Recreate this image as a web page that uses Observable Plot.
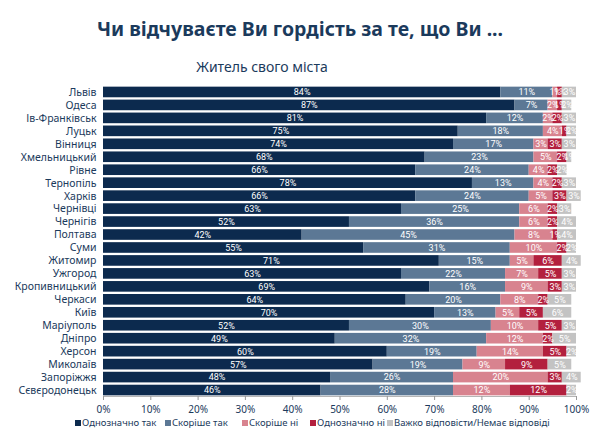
<!DOCTYPE html>
<html><head><meta charset="utf-8">
<script src="https://cdn.jsdelivr.net/npm/d3@7"></script>
<script src="https://cdn.jsdelivr.net/npm/@observablehq/plot@0.6"></script>
<style>
body{margin:0;background:#fff;font-family:"Noto Sans",sans-serif;}
#wrap{width:600px;height:433px;position:relative;overflow:hidden;}
#title{position:absolute;top:15px;left:0;width:600px;text-align:center;font-size:19.5px;font-weight:bold;color:#1b3a5c;}
#sub{position:absolute;top:57px;left:0;width:524px;text-align:center;font-size:14px;color:#1b3a5c;}
#chart{position:absolute;top:78px;left:0;}
#chart svg{display:block;}
#legend{position:absolute;top:416px;left:0;width:600px;height:16px;font-size:9.5px;color:#1b3a5c;white-space:nowrap;}
#legend span{position:absolute;top:0;}
#legend i{display:inline-block;width:6px;height:6px;margin-right:1px;vertical-align:0px;}
</style></head>
<body><div id="wrap">
<div id="title">Чи відчуваєте Ви гордість за те, що Ви ...</div>
<div id="sub">Житель свого міста</div>
<div id="chart"></div>
<div id="legend"></div>
</div>
<script>
const cities = ["Львів","Одеса","Ів-Франківськ","Луцьк","Вінниця","Хмельницький","Рівне","Тернопіль","Харків","Чернівці","Чернігів","Полтава","Суми","Житомир","Ужгород","Кропивницький","Черкаси","Київ","Маріуполь","Дніпро","Херсон","Миколаїв","Запоріжжя","Сєвєродонецьк"];
const series = ["Однозначно так","Скоріше так","Скоріше ні","Однозначно ні","Важко відповісти/Немає відповіді"];
const colors = ["#0c2a4e","#5c7895","#d8838f","#b3203e","#c3c3c3"];
const definitelyYes = [84,87,81,75,74,68,66,78,66,63,52,42,55,71,63,69,64,70,52,49,60,57,48,46];
const ratherYes     = [11,7,12,18,17,23,24,13,24,25,36,45,31,15,22,16,20,13,30,32,19,19,26,28];
const ratherNo      = [1,2,2,4,3,5,4,4,5,6,6,8,10,5,7,9,8,5,10,12,14,9,20,12];
const definitelyNo  = [1,1,2,1,3,2,2,2,3,2,2,1,2,6,5,3,2,5,5,2,5,9,3,12];
const hardToSay     = [3,2,3,2,3,1,2,3,3,3,4,4,2,4,3,3,5,6,3,5,2,5,4,2];
const xTicks = [0,10,20,30,40,50,60,70,80,90,100];
const legendX = [75,165,242,310,387];

const cols = [definitelyYes, ratherYes, ratherNo, definitelyNo, hardToSay];
const data = [];
cities.forEach((c,i)=>series.forEach((s,j)=>data.push({city:c, series:s, value:cols[j][i]})));

const chart = Plot.plot({
  width: 600, height: 340,
  marginLeft: 103, marginRight: 24, marginTop: 8, marginBottom: 22,
  style: {fontFamily: "Noto Sans, sans-serif", fontSize: "10px", color: "#1b3a5c"},
  x: {domain:[0,100], label: null},
  y: {domain: cities, label: null, paddingInner: 0.18, paddingOuter: 0.05, round: false},
  color: {domain: series, range: colors},
  marks: [
    Plot.barX(data, Plot.stackX({x:"value", y:"city", fill:"series", order: series})),
    Plot.textX(data, Plot.stackX({x:"value", y:"city", z:"series", order: series, text: d=>d.value+"%", fill:"white", fontSize: 9, fontFamily:"Roboto", letterSpacing: "-0.4px"})),
    Plot.frame({anchor:"bottom", stroke:"#b5b5b5"}),
    Plot.axisX({ticks: xTicks, tickFormat: d=>d+"%", stroke:"#999", fill:"#1b3a5c", tickSize:4, label:null}),
    Plot.axisY({tickSize:0, tickPadding: 7, fill:"#1b3a5c", label:null, fontSize: 10.5})
  ]
});
document.getElementById("chart").appendChild(chart);
const lg = document.getElementById("legend");
series.forEach((s,j)=>{const sp=document.createElement("span");sp.style.left=legendX[j]+"px";sp.innerHTML=`<i style="background:${colors[j]}"></i>${s}`;lg.appendChild(sp);});
</script>
</body></html>
